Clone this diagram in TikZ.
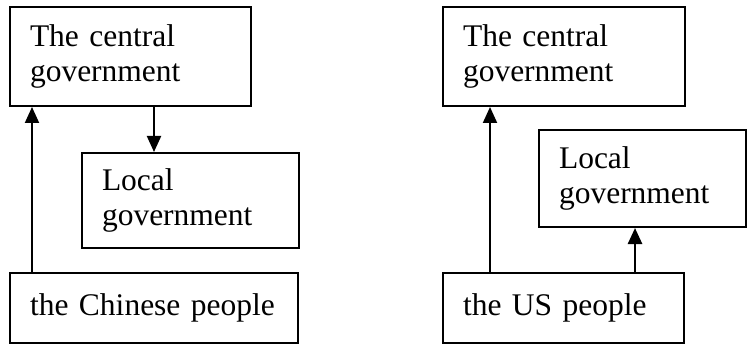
\documentclass[tikz,border=0pt]{standalone}
\usepackage{fontspec}
\setmainfont{Liberation Serif}
\usepackage{tikz}
\usetikzlibrary{arrows.meta}

\begin{document}
\begin{tikzpicture}[x=0.5pt, y=-0.5pt,
    >={Triangle[width=7pt,length=8pt]},
    govbox/.style={draw, line width=1pt, inner xsep=10pt, align=left,
        font=\fontsize{15.75}{17.5}\selectfont},
    link/.style={->, line width=1pt}]
        \useasboundingbox (0,0) rectangle (747,347);

        % China
        \node[govbox, text width=100.5pt, minimum height=49.5pt] (lcentral) at (130.5,56.5) {The central\\government};
        \node[govbox, text width=88.5pt, minimum height=47.5pt] (llocal) at (190.5,200.5) {Local\\government};
        \node[govbox, text width=124pt, minimum height=35pt] (lpeople) at (154,308) {the Chinese people};

        \draw[link] ([xshift=11.5pt]lpeople.north west) -- ([xshift=11.5pt]lcentral.south west);
        \draw[link] ([xshift=11.75pt]lcentral.south) -- ([xshift=11.75pt]lcentral.south |- llocal.north);

        % US
        \node[govbox, text width=101pt, minimum height=49.5pt] (rcentral) at (564,56.5) {The central\\government};
        \node[govbox, text width=83.5pt, minimum height=48.5pt] (rlocal) at (642.5,178.5) {Local\\government};
        \node[govbox, text width=100.5pt, minimum height=35pt] (rpeople) at (563.5,308) {the US people};

        \draw[link] ([xshift=24pt]rpeople.north west) -- ([xshift=24pt]rcentral.south west);
        \draw[link, line width=1.3pt] ([xshift=35.75pt]rpeople.north) -- ([xshift=35.75pt]rpeople.north |- rlocal.south);
    \end{tikzpicture}
\end{document}
